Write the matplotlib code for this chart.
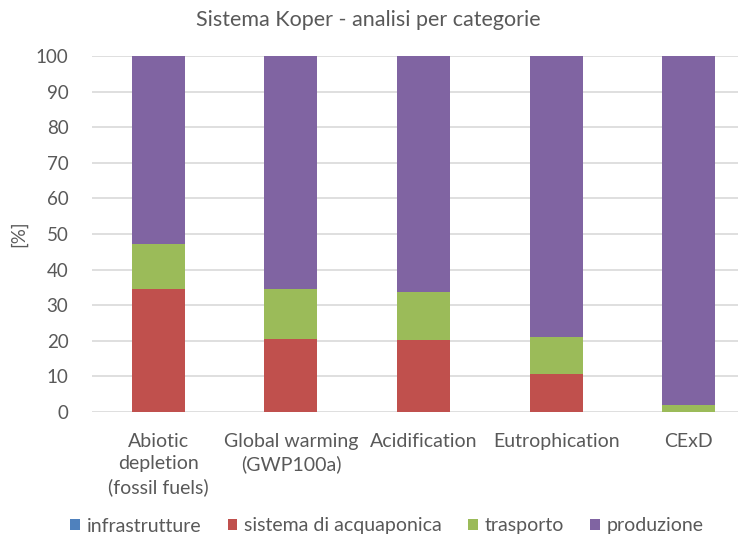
import numpy as np
import matplotlib.pyplot as plt

plt.rcParams['font.family'] = ['Lato', 'DejaVu Sans']

categorie = ["Abiotic\ndepletion\n(fossil fuels)", "Global warming\n(GWP100a)",
             "Acidification", "Eutrophication", "CExD"]
infrastrutture = [0.0, 0.0, 0.0, 0.0, 0.0]
acquaponica = [34.6, 20.6, 20.2, 10.6, 0.0]
trasporto = [12.7, 14.0, 13.4, 10.4, 1.9]
produzione = [52.7, 65.4, 66.4, 79.0, 98.1]

serie = [
    ("infrastrutture", infrastrutture, "#4F81BD"),
    ("sistema di acquaponica", acquaponica, "#C0504D"),
    ("trasporto", trasporto, "#9BBB59"),
    ("produzione", produzione, "#8064A2"),
]

fig = plt.figure(figsize=(7.38, 5.38), dpi=100)
ax = fig.add_axes([92 / 738, 1 - 412 / 538, 663 / 738, 356 / 538])

x = np.arange(len(categorie))
bottom = np.zeros(len(categorie))
for nome, valori, colore in serie:
    ax.bar(x, valori, width=0.40, bottom=bottom, color=colore, label=nome, zorder=3)
    bottom += np.array(valori)

ax.set_xlim(-0.5, 4.5)
ax.set_ylim(0, 100)
ax.set_yticks(range(0, 101, 10))
ax.grid(axis='y', color='#D9D9D9', linewidth=1.2, zorder=0)
ax.set_axisbelow(True)
for s in ax.spines.values():
    s.set_visible(False)
ax.tick_params(length=0, colors='#595959')
ax.tick_params(axis='y', pad=17, labelsize=13.5)
ax.tick_params(axis='x', pad=15, labelsize=14)
ax.set_xticks(x)
ax.set_xticklabels(categorie, linespacing=1.38)
ax.set_ylabel("[%]", color='#595959', fontsize=13.5, labelpad=6)

fig.suptitle("Sistema Koper - analisi per categorie", color='#595959',
             fontsize=15.5, x=368 / 738, y=1 - 20 / 538, va='center')

fig.legend(loc='center', bbox_to_anchor=(387 / 738, 1 - 526 / 538), ncol=4,
           frameon=False, fontsize=14, labelcolor='#595959',
           handlelength=0.5, handleheight=0.5, handletextpad=0.35, columnspacing=1.35)

plt.savefig("out.png", dpi=100)
